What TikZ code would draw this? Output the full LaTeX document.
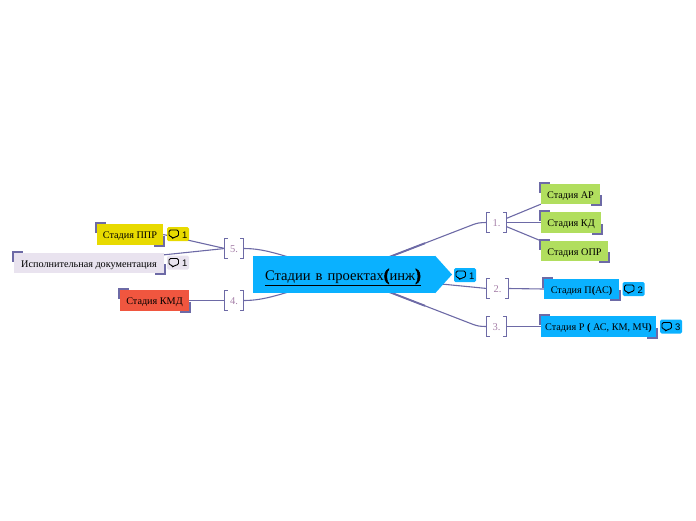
\documentclass[tikz,border=0pt]{standalone}
\usepackage{fontspec}
\setmainfont{Liberation Serif}
\newfontfamily\notefont{Liberation Sans}
\newfontfamily\heavyfont[FakeBold=3]{Liberation Serif Bold}
\usetikzlibrary{backgrounds}

\definecolor{rootblue}{HTML}{0AB1FF}
\definecolor{leafgreen}{HTML}{B1DE5E}
\definecolor{leafyellow}{HTML}{E8DA00}
\definecolor{leaflilac}{HTML}{E9E3EF}
\definecolor{leafred}{HTML}{F0563F}
\definecolor{linecol}{HTML}{6D6AA6}
\definecolor{numcol}{HTML}{A57FA8}

\newcommand{\bubble}{\smash{\tikz[x=1pt,y=-1pt,baseline=-8pt]\draw[line width=0.9pt]
    (0,0) -- (9.5,0) -- (9.5,6.5) -- (6,6.5) -- (3.5,9) -- (3.5,6.5) -- (0,6.5) -- cycle;}}
\newcommand{\bigparen}[1]{\smash{\fontsize{17}{17}\heavyfont #1}}

\tikzset{
    topic/.style={inner sep=0pt, minimum height=#1, text height=8pt, text depth=0pt,
        font=\fontsize{10.2}{11}\selectfont},
    numbox/.style={inner sep=0pt, minimum width=19pt, minimum height=19pt, text=numcol,
        text height=8pt, text depth=0pt, font=\fontsize{10.5}{12}\selectfont},
    note/.style={inner sep=0pt, minimum width=22pt, minimum height=14pt, rounded corners=1.5pt,
        text height=8pt, text depth=0pt, font=\notefont\fontsize{9.5}{11}\selectfont},
    link/.style={draw=linecol, line width=1.1pt},
    stem/.style={draw=linecol, line width=1.9pt},
    corner/.style={draw=linecol, line width=2pt},
    bracket/.style={draw=linecol, line width=0.9pt}
}

\begin{document}
\begin{tikzpicture}[x=1pt,y=-1pt]
    \useasboundingbox (0,0) rectangle (696,520);

    % центральная тема
    \node[fill=rootblue, inner sep=0pt, minimum width=182pt, minimum height=37pt,
        text width=158pt, align=left, text height=12pt, text depth=0pt,
        font=\fontsize{14.6}{16}\selectfont] (root) at (344,274.5)
        {\underline{Стадии\hspace{5pt}в\hspace{5pt}проектах\bigparen{(}инж\bigparen{)}}};
    \fill[rootblue] (root.north east) -- (452,274.5) -- (root.south east) -- cycle;
    \node[note, fill=rootblue] (noteroot) at (465,275) {\bubble\,\,1};

    % номера
    \node[numbox] (n1) at (496.5,222.5) {1.};
    \node[numbox, minimum width=21pt] (n2) at (497.5,288.5) {2.};
    \node[numbox] (n3) at (496.5,326.5) {3.};
    \node[numbox, minimum width=18pt] (n4) at (234,300.5) {4.};
    \node[numbox, minimum width=18pt] (n5) at (234,248.5) {5.};

    % темы справа
    \node[topic=20pt, fill=leafgreen, minimum width=59pt] (ar) at (570.5,194) {Стадия АР};
    \node[topic=21pt, fill=leafgreen, minimum width=60pt] (kd) at (571,222.5) {Стадия КД};
    \node[topic=20pt, fill=leafgreen, minimum width=67pt] (opr) at (574.5,251) {Стадия ОПР};
    \node[topic=20pt, fill=rootblue, minimum width=75pt] (proj) at (581.5,289) {Стадия П\textbf{(}АС\textbf{)}};
    \node[topic=21pt, fill=rootblue, minimum width=115pt] (work) at (598.5,326.5) {Стадия Р \textbf{(} АС, КМ, МЧ\textbf{)}};

    % темы слева
    \node[topic=21pt, fill=leafyellow, minimum width=66pt] (ppr) at (130,234.5) {Стадия ППР};
    \node[topic=20pt, fill=leaflilac, minimum width=150pt] (doc) at (89,263) {Исполнительная документация};
    \node[topic=21pt, fill=leafred, minimum width=69pt] (kmd) at (154.5,300.5) {Стадия КМД};

    % заметки
    \node[note, fill=rootblue] (noteproj) at (633.5,289) {\bubble\,\,2};
    \node[note, fill=rootblue] (notework) at (671,326.5) {\bubble\,\,3};
    \node[note, fill=leafyellow] (noteppr) at (178,234) {\bubble\,\,1};
    \node[note, fill=leaflilac] (notedoc) at (178,262.5) {\bubble\,\,1};

    % связи
    \begin{pgfonlayer}{background}
        \draw[stem] (root.center) -- (425,243.2);
        \draw[stem] (root.center) -- (425,305.8);
        \draw[link] (root.center) -- (472,225) .. controls (477,223) and (480,222.5) .. (n1.west);
        \draw[link] (root.center) -- (477,287.5) -- (n2.west);
        \draw[link] (root.center) -- (472,324) .. controls (477,326) and (480,326.5) .. (n3.west);
        \draw[link] (root.center) -- (285,293) .. controls (265,299) and (255,300.5) .. (n4.east);
        \draw[link] (root.center) -- (285,256) .. controls (265,250) and (255,248.5) .. (n5.east);
        \draw[link] ([yshift=4pt]n1.east) -- (ar.south west);
        \draw[link] (n1.east) -- (kd.west);
        \draw[link] ([yshift=-4pt]n1.east) -- (opr.north west);
        \draw[link] (n2.east) -- (proj.west);
        \draw[link] (n3.east) -- (work.west);
        \draw[link] (n4.west) -- (kmd.east);
        \draw[link] (n5.west) -- (ppr.east);
        \draw[link] (n5.west) -- ([yshift=-2pt]doc.north east);
    \end{pgfonlayer}

    % уголки у тем
    \foreach \n in {ar,kd,opr,proj,work,ppr,doc,kmd} {
        \draw[corner] ([shift={(-1,9)}]\n.north west) -- ([shift={(-1,-1)}]\n.north west) -- ([shift={(9,-1)}]\n.north west);
        \draw[corner] ([shift={(1,-9)}]\n.south east) -- ([shift={(1,1)}]\n.south east) -- ([shift={(-9,1)}]\n.south east);
    }

    % скобки у номеров
    \foreach \n in {n1,n2,n3,n4,n5} {
        \draw[bracket] ([xshift=3pt]\n.north west) -- (\n.north west) -- (\n.south west) -- ([xshift=3pt]\n.south west);
        \draw[bracket] ([xshift=-3pt]\n.north east) -- (\n.north east) -- (\n.south east) -- ([xshift=-3pt]\n.south east);
    }
\end{tikzpicture}
\end{document}
